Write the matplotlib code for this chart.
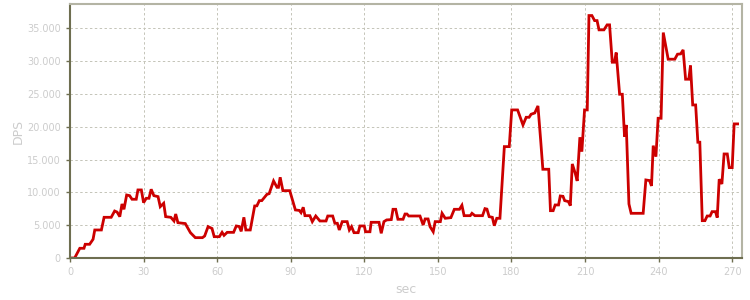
import matplotlib
matplotlib.use("Agg")
import matplotlib.pyplot as plt
from matplotlib.ticker import FuncFormatter

# DPS over time, vertices
sec = [0, 1.9, 4.0, 5.7, 6.2, 8.0, 9.4, 10.1, 12.8, 13.9, 16.8, 18.2, 19.2, 20.3,
       21.2, 22.0, 23.1, 24.3, 25.3, 27.0, 27.7, 29.1, 30.0, 31.1, 32.2, 33.1,
       34.2, 35.9, 36.8, 38.2, 39.0, 41.1, 42.4, 43.1, 44.0, 46.1, 47.0, 49.1,
       51.1, 54.0, 54.9, 56.3, 57.9, 58.8, 60.9, 62.0, 62.8, 64.1, 66.7, 67.8,
       69.0, 69.8, 70.9, 71.7, 73.5, 75.3, 76.2, 77.2, 78.2, 79.0, 80.3, 81.2,
       83.0, 84.4, 85.0, 85.7, 86.8, 89.6, 91.9, 93.5, 94.2, 95.1, 95.8, 97.8,
       98.8, 100.2, 101.9, 104.4, 105.1, 107.1, 108.0, 109.0, 109.8, 111.0,
       113.0, 113.9, 114.8, 115.8, 117.5, 118.2, 120.0, 120.5, 122.3, 122.8,
       126.0, 126.9, 128.0, 129.1, 131.0, 131.7, 132.8, 133.7, 135.8, 136.6,
       137.4, 138.1, 142.7, 144.0, 144.8, 146.0, 146.8, 148.1, 148.9, 151.0,
       151.7, 153.0, 155.3, 156.7, 158.8, 159.8, 160.7, 163.2, 163.9, 165.1,
       168.2, 169.2, 170.0, 170.9, 172.2, 173.0, 174.0, 175.3, 177.1, 179.1,
       180.1, 182.5, 184.7, 186.0, 187.2, 188.0, 189.5, 190.8, 191.9, 192.8,
       195.2, 195.9, 197.0, 197.8, 199.2, 199.9, 201.0, 201.7, 203.2, 204.0,
       204.8, 206.0, 206.8, 207.9, 208.7, 209.8, 210.9, 211.6, 212.8, 213.9,
       214.9, 215.7, 217.7, 219.0, 220.0, 221.1, 222.0, 222.7, 224.1, 225.2,
       226.1, 226.8, 227.9, 228.8, 233.7, 234.8, 236.3, 237.1, 237.8, 238.9,
       239.8, 241.0, 241.9, 243.9, 246.6, 247.7, 249.0, 250.0, 251.0, 252.3,
       253.0, 253.9, 255.1, 256.0, 256.8, 257.8, 258.9, 259.8, 261.0, 261.8,
       263.2, 263.9, 264.7, 265.8, 266.7, 268.0, 268.8, 270.0, 270.8, 272.2]
dps = [0, 0, 1480, 1480, 2090, 2090, 2850, 4270, 4270, 6200, 6200, 7160, 7000, 6300,
       8230, 7420, 9600, 9500, 8950, 8950, 10370, 10370, 8430, 9100, 9100, 10470,
       9500, 9350, 7820, 8340, 6300, 6200, 5640, 6700, 5380, 5300, 5250, 3860,
       3100, 3100, 3350, 4780, 4500, 3250, 3250, 3910, 3450, 3910, 3910, 4880,
       4800, 4060, 6200, 4270, 4270, 7930, 7950, 8740, 8740, 9100, 9700, 9800,
       11740, 10770, 10770, 12300, 10260, 10260, 7320, 7250, 6910, 7730, 6450, 6450,
       5540, 6400, 5640, 5640, 6400, 6400, 5290, 5290, 4270, 5540, 5540, 4270,
       4780, 3860, 3860, 4880, 4880, 4000, 4000, 5440, 5440, 3760, 5540, 5800,
       5850, 7420, 7420, 5900, 5900, 6700, 6700, 6400, 6400, 5030, 5950, 5950,
       4780, 4000, 5540, 5540, 6810, 6050, 6150, 7420, 7420, 8030, 6450, 6450,
       6810, 6450, 6450, 7520, 7450, 6300, 6200, 4920, 6050, 6050, 16970, 16970,
       22560, 22560, 20270, 21440, 21440, 21900, 22100, 23170, 17990, 13520,
       13520, 7210, 7210, 8080, 8080, 9450, 9400, 8740, 8600, 7970, 14330, 12910,
       11740, 18400, 16200, 22560, 22560, 36940, 36940, 36170, 36170, 34760,
       34760, 35520, 35520, 29830, 29830, 31300, 24950, 24950, 18500, 20270,
       8230, 6810, 6810, 11890, 11800, 10980, 17120, 15440, 21290, 21290, 34350,
       30290, 30290, 31050, 31100, 31710, 27240, 27240, 29320, 23320, 23320,
       17640, 17640, 5690, 5690, 6400, 6400, 7060, 7060, 6150, 12000, 11280,
       15850, 15850, 13770, 13770, 20430, 20430]

x_ticks = [0, 30, 60, 90, 120, 150, 180, 210, 240, 270]
y_ticks = [0, 5000, 10000, 15000, 20000, 25000, 30000, 35000]

dark = "#6e6e50"
light = "#b4b4a4"
text_col = "#cccccc"

fig = plt.figure(figsize=(7.5, 3), dpi=100)
ax = fig.add_axes([70 / 750, 42 / 300, 672 / 750, 254 / 300])

ax.plot(sec, dps, color="#cc0000", linewidth=2, solid_joinstyle="miter")

ax.set_xlim(0, 274)
ax.set_ylim(0, 38700)
ax.set_xticks(x_ticks)
ax.set_yticks(y_ticks)
ax.yaxis.set_major_formatter(FuncFormatter(lambda v, p: f"{int(v):,}".replace(",", ".")))

ax.grid(True, color="#c4c4b8", linestyle=(0, (2.5, 2.5)), linewidth=0.7)
ax.set_axisbelow(True)

for side in ["left", "bottom"]:
    ax.spines[side].set_color(dark)
    ax.spines[side].set_linewidth(1.5)
for side in ["top", "right"]:
    ax.spines[side].set_color(light)
    ax.spines[side].set_linewidth(1.5)

ax.tick_params(colors=dark, labelcolor=text_col, labelsize=7, length=3, width=1)
ax.set_ylabel("DPS", color=text_col, fontsize=9, labelpad=2)
ax.set_xlabel("sec", color=text_col, fontsize=9, labelpad=4)

fig.savefig("out.png", dpi=100)
